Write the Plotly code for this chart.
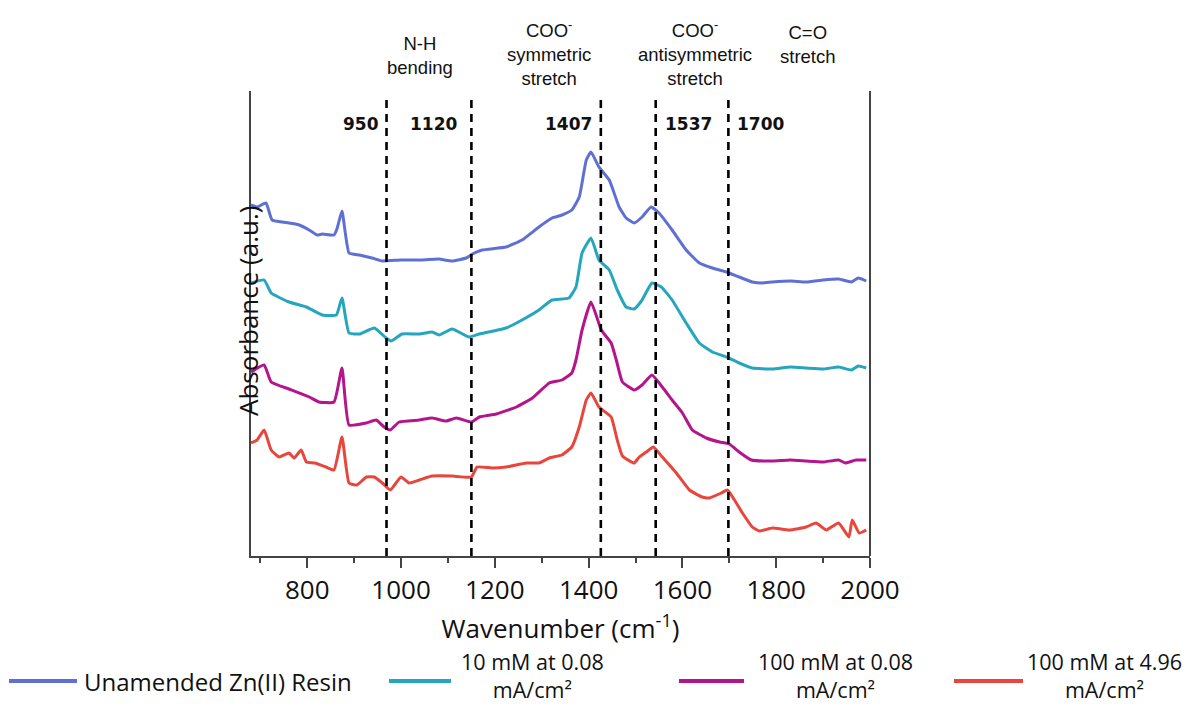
import plotly.graph_objects as go

# ---- data (wavenumber cm^-1, absorbance a.u. with vertical offsets) ----
blue_x = [680, 693, 712, 725, 761, 783, 804, 821, 832, 857, 864, 874, 889, 911, 938, 960, 1000, 1045, 1080, 1109,
          1139, 1152, 1173, 1224, 1258, 1294, 1322, 1343, 1364, 1380, 1395, 1405, 1422, 1444, 1465, 1480, 1497, 1514,
          1533, 1550, 1578, 1608, 1636, 1664, 1694, 1721, 1749, 1770, 1792, 1830, 1864, 1900, 1933, 1960, 1975, 1992]
blue_y = [3.51, 3.49, 3.53, 3.36, 3.33, 3.31, 3.26, 3.21, 3.22, 3.21, 3.28, 3.45, 3.03, 3.01, 2.98, 2.95, 2.96, 2.96, 2.97, 2.95,
          2.98, 3.02, 3.06, 3.09, 3.16, 3.29, 3.38, 3.41, 3.46, 3.59, 3.96, 4.04, 3.89, 3.76, 3.49, 3.38, 3.33, 3.39,
          3.49, 3.43, 3.26, 3.06, 2.93, 2.88, 2.84, 2.79, 2.74, 2.73, 2.74, 2.75, 2.74, 2.76, 2.77, 2.74, 2.78, 2.75]

cyan_x = [680, 708, 723, 761, 798, 832, 862, 874, 889, 911, 943, 968, 979, 1002, 1039, 1066, 1081, 1109, 1145, 1167,
          1224, 1258, 1294, 1322, 1358, 1373, 1386, 1405, 1422, 1444, 1461, 1480, 1497, 1514, 1535, 1555, 1578, 1608,
          1636, 1664, 1694, 1721, 1749, 1792, 1830, 1864, 1900, 1933, 1960, 1975, 1992]
cyan_y = [2.73, 2.76, 2.63, 2.54, 2.49, 2.41, 2.41, 2.58, 2.23, 2.22, 2.28, 2.18, 2.15, 2.22, 2.22, 2.24, 2.21, 2.27, 2.19, 2.22,
          2.28, 2.36, 2.46, 2.56, 2.58, 2.69, 3.03, 3.18, 2.96, 2.86, 2.66, 2.49, 2.47, 2.56, 2.73, 2.69, 2.56, 2.33,
          2.13, 2.04, 1.99, 1.93, 1.88, 1.87, 1.89, 1.88, 1.87, 1.89, 1.86, 1.90, 1.88]

magenta_x = [680, 708, 723, 761, 804, 825, 857, 874, 889, 926, 947, 964, 977, 996, 1039, 1066, 1096, 1118, 1150, 1167,
             1203, 1246, 1280, 1316, 1343, 1364, 1373, 1386, 1405, 1427, 1448, 1459, 1472, 1497, 1514, 1535, 1557,
             1578, 1600, 1621, 1651, 1679, 1700, 1721, 1747, 1792, 1830, 1864, 1900, 1933, 1948, 1970, 1992]
magenta_y = [1.84, 1.91, 1.74, 1.67, 1.59, 1.54, 1.54, 1.88, 1.31, 1.33, 1.36, 1.29, 1.26, 1.34, 1.36, 1.38, 1.35, 1.38, 1.34, 1.39,
             1.42, 1.49, 1.58, 1.73, 1.76, 1.83, 1.96, 2.26, 2.54, 2.26, 2.13, 1.96, 1.74, 1.66, 1.71, 1.81, 1.69,
             1.56, 1.43, 1.26, 1.18, 1.14, 1.12, 1.04, 0.96, 0.95, 0.96, 0.95, 0.94, 0.96, 0.93, 0.96, 0.96]

red_x = [680, 693, 708, 723, 740, 761, 772, 787, 798, 816, 840, 857, 874, 889, 906, 926, 943, 960, 977, 1000, 1017,
         1039, 1066, 1109, 1150, 1162, 1194, 1224, 1267, 1294, 1316, 1343, 1364, 1380, 1395, 1405, 1422, 1448, 1461,
         1472, 1497, 1508, 1523, 1538, 1557, 1587, 1615, 1642, 1657, 1683, 1696, 1711, 1728, 1749, 1764, 1792, 1828,
         1864, 1885, 1907, 1933, 1955, 1962, 1977, 1992]
red_y = [1.13, 1.16, 1.26, 1.06, 0.99, 1.03, 0.98, 1.06, 0.94, 0.93, 0.89, 0.86, 1.19, 0.73, 0.71, 0.79, 0.79, 0.73, 0.66, 0.79, 0.73,
         0.76, 0.80, 0.80, 0.79, 0.89, 0.88, 0.89, 0.93, 0.93, 0.98, 1.01, 1.09, 1.29, 1.56, 1.63, 1.49, 1.39, 1.16,
         1.00, 0.93, 0.99, 1.04, 1.09, 0.99, 0.83, 0.66, 0.59, 0.58, 0.63, 0.66, 0.56, 0.43, 0.29, 0.25, 0.28, 0.26,
         0.29, 0.33, 0.26, 0.33, 0.19, 0.36, 0.23, 0.26]

series_names = ["Unamended Zn(II) Resin", "10 mM at 0.08<br>mA/cm²",
                "100 mM at 0.08<br>mA/cm²", "100 mM at 4.96<br>mA/cm²"]
series_colors = ["#5E70D2", "#25A6BE", "#B4148C", "#E8463C"]

marker_positions = [969, 1150, 1426, 1543, 1698]
marker_labels = ["950", "1120", "1407", "1537", "1700"]
marker_label_x = [914, 1070, 1356, 1614, 1766]

band_labels = ["N-H<br>bending", "COO<sup>-</sup><br>symmetric<br>stretch",
               "COO<sup>-</sup><br>antisymmetric<br>stretch", "C=O<br>stretch"]
band_label_x = [1040, 1315, 1627, 1868]
band_label_y = [1.076, 1.082, 1.082, 1.101]

x_ticks = [800, 1000, 1200, 1400, 1600, 1800, 2000]

# ---- figure geometry (pixels; the page body adds an 8 px offset) ----
OFF = 8
W, H = 1197 - OFF, 705 - OFF
L, R, T, B = 251 - OFF, 327, 91 - OFF, 149
PW, PH = W - L - R, H - T - B


def px_x(p):
    return (p - OFF - L) / PW


def px_y(p):
    return (H - B - (p - OFF)) / PH


fig = go.Figure()
for xs, ys, name, col in zip([blue_x, cyan_x, magenta_x, red_x], [blue_y, cyan_y, magenta_y, red_y],
                             series_names, series_colors):
    fig.add_trace(go.Scatter(x=xs, y=ys, mode="lines", name=name, showlegend=False,
                             line=dict(color=col, width=3, shape="spline", smoothing=0.4)))

for xp in marker_positions:
    fig.add_shape(type="line", xref="x", yref="paper", x0=xp, x1=xp, y0=0, y1=0.987,
                  line=dict(color="black", width=2.6, dash="8px,6px"))

for xl, txt in zip(marker_label_x, marker_labels):
    fig.add_annotation(x=xl, y=0.955, xref="x", yref="paper", text="<b>" + txt + "</b>",
                       showarrow=False, font=dict(family="DejaVu Sans", size=17, color="#111"))

for xl, yl, txt in zip(band_label_x, band_label_y, band_labels):
    fig.add_annotation(x=xl, y=yl, xref="x", yref="paper", text=txt, showarrow=False,
                       yanchor="middle", font=dict(family="Liberation Sans", size=18.5, color="#111"))

# right frame line
fig.add_shape(type="line", xref="paper", yref="paper", x0=1, x1=1, y0=0, y1=1,
              line=dict(color="#444", width=2))

fig.add_annotation(x=px_x(228), y=px_y(311), xref="paper", yref="paper", text="Absorbance (a.u.)",
                   textangle=-90, showarrow=False, font=dict(family="Open Sans", size=26, color="#111"))

# ---- legend (line samples + labels) ----
leg_line_x0 = [9, 389, 679, 954]
leg_line_x1 = [77, 451, 744, 1023]
leg_text_x = [83, 532, 835, 1104]
leg_anchor = ["left", "center", "center", "center"]
leg_size = [24, 21.5, 21.5, 21.5]
leg_line_y = 681
leg_text_y = [681, 675, 675, 675]
for x0, x1, tx, ty, anc, sz, name, col in zip(leg_line_x0, leg_line_x1, leg_text_x, leg_text_y, leg_anchor,
                                              leg_size, series_names, series_colors):
    fig.add_shape(type="line", xref="paper", yref="paper", x0=px_x(x0), x1=px_x(x1),
                  y0=px_y(leg_line_y), y1=px_y(leg_line_y), line=dict(color=col, width=4))
    fig.add_annotation(x=px_x(tx), y=px_y(ty), xref="paper", yref="paper", text=name,
                       xanchor=anc, yanchor="middle", align="center", showarrow=False, borderpad=0,
                       font=dict(family="Open Sans", size=sz, color="#111"))

fig.update_layout(
    width=W, height=H,
    margin=dict(l=L, r=R, t=T, b=B, autoexpand=False),
    paper_bgcolor="white", plot_bgcolor="white",
    font=dict(family="Open Sans", color="#111"),
    showlegend=False,
    xaxis=dict(range=[680, 2000], tickvals=x_ticks, ticks="outside", ticklen=10, tickwidth=2,
               tickcolor="#444", showline=True, linecolor="#444", linewidth=2, showgrid=False,
               zeroline=False, automargin=False, tickfont=dict(size=26, family="Open Sans", color="#111"),
               minor=dict(dtick=100, tick0=700, ticks="outside", ticklen=5, tickwidth=1.5, tickcolor="#444"),
               title=dict(text="Wavenumber (cm<sup>-1</sup>)", font=dict(size=26, family="Open Sans", color="#111"),
                          standoff=14)),
    yaxis=dict(range=[0, 4.65], showticklabels=False, ticks="", showline=True, linecolor="#444", linewidth=2,
               showgrid=False, zeroline=False, automargin=False),
)

fig.write_html("out.html")
